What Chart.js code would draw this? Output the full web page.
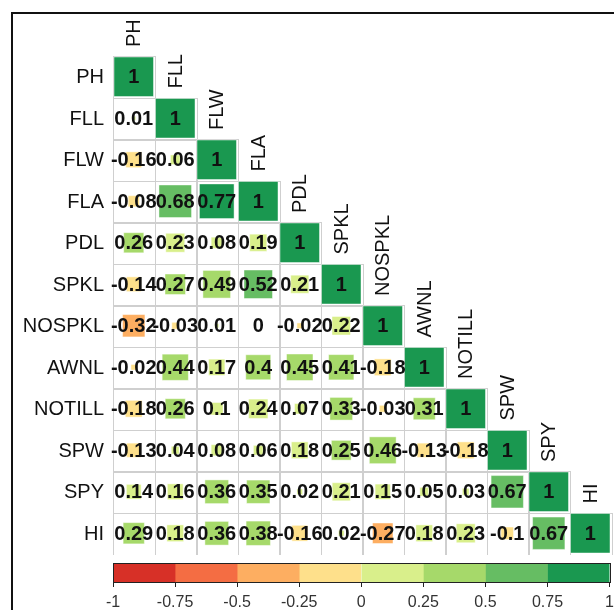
<!DOCTYPE html>
<html>
<head>
<meta charset="utf-8">
<script src="https://cdn.jsdelivr.net/npm/chart.js@4.4.1/dist/chart.umd.min.js"></script>
<style>
  html, body { margin: 0; padding: 0; background: #fff; }
  #wrap { position: relative; width: 614px; height: 610px; overflow: hidden; }
  #frame { position: absolute; left: 11px; top: 12px; width: 700px; height: 700px;
           border-left: 2px solid #111; border-top: 2px solid #111; }
  #main { position: absolute; left: 0; top: 0; }
  #bar { position: absolute; left: 0; top: 555px; }
</style>
</head>
<body>
<div id="wrap">
  <div id="frame"></div>
  <canvas id="main" width="614" height="555"></canvas>
  <canvas id="bar" width="620" height="55"></canvas>
</div>
<script>
// Trait names (rows top to bottom, columns left to right)
const traits = ['PH', 'FLL', 'FLW', 'FLA', 'PDL', 'SPKL', 'NOSPKL', 'AWNL', 'NOTILL', 'SPW', 'SPY', 'HI'];

// Lower-triangle correlation coefficients, one array per row
const rPH     = [1];
const rFLL    = [0.01, 1];
const rFLW    = [-0.16, 0.06, 1];
const rFLA    = [-0.08, 0.68, 0.77, 1];
const rPDL    = [0.26, 0.23, 0.08, 0.19, 1];
const rSPKL   = [-0.14, 0.27, 0.49, 0.52, 0.21, 1];
const rNOSPKL = [-0.32, -0.03, 0.01, 0, -0.02, 0.22, 1];
const rAWNL   = [-0.02, 0.44, 0.17, 0.4, 0.45, 0.41, -0.18, 1];
const rNOTILL = [-0.18, 0.26, 0.1, 0.24, 0.07, 0.33, -0.03, 0.31, 1];
const rSPW    = [-0.13, 0.04, 0.08, 0.06, 0.18, 0.25, 0.46, -0.13, -0.18, 1];
const rSPY    = [0.14, 0.16, 0.36, 0.35, 0.02, 0.21, 0.15, 0.05, 0.03, 0.67, 1];
const rHI     = [0.29, 0.18, 0.36, 0.38, -0.16, 0.02, -0.27, 0.18, 0.23, -0.1, 0.67, 1];

// Colour scale: eight bins of width 0.25 from -1 to 1
const binEdges  = [-1, -0.75, -0.5, -0.25, 0, 0.25, 0.5, 0.75, 1];
const binColors = ['#d73027', '#f46d43', '#fdae61', '#fee08b', '#d9ef8b', '#a6d96a', '#66bd63', '#1a9850'];
const barTickLabels = ['-1', '-0.75', '-0.5', '-0.25', '0', '0.25', '0.5', '0.75', '1'];

const rows = [rPH, rFLL, rFLW, rFLA, rPDL, rSPKL, rNOSPKL, rAWNL, rNOTILL, rSPW, rSPY, rHI];
const FONT = '"Liberation Sans", Arial, Helvetica, sans-serif';

function colorFor(v) {
  let k = Math.floor((v + 1) / 0.25);
  return binColors[Math.max(0, Math.min(binColors.length - 1, k))];
}

const points = [];
rows.forEach((row, i) => row.forEach((v, j) => points.push({ x: j + 0.5, y: i + 0.5, v: v })));

function cellPx(chart) {
  const xs = chart.scales.x;
  return Math.abs(xs.getPixelForValue(1) - xs.getPixelForValue(0));
}

// Grid lines of the lower triangle, drawn under the squares
const gridPlugin = {
  id: 'triGrid',
  beforeDatasetsDraw(chart) {
    const { ctx, scales: { x, y } } = chart;
    ctx.save();
    ctx.strokeStyle = '#cfcfcf';
    ctx.lineWidth = 1;
    rows.forEach((row, i) => row.forEach((v, j) => {
      const x0 = x.getPixelForValue(j), x1 = x.getPixelForValue(j + 1);
      const y0 = y.getPixelForValue(i), y1 = y.getPixelForValue(i + 1);
      ctx.strokeRect(Math.round(x0) + 0.5, Math.round(y0) + 0.5, Math.round(x1 - x0), Math.round(y1 - y0));
    }));
    ctx.restore();
  }
};

// Coefficient values and trait names
const textPlugin = {
  id: 'corrText',
  afterDatasetsDraw(chart) {
    const { ctx, scales: { x, y } } = chart;
    ctx.save();
    ctx.fillStyle = '#111';
    ctx.font = 'bold 20px ' + FONT;
    ctx.textAlign = 'center';
    ctx.textBaseline = 'middle';
    points.forEach(p => {
      ctx.fillText(String(p.v), x.getPixelForValue(p.x), y.getPixelForValue(p.y) + 1);
    });
    ctx.font = '20px ' + FONT;
    ctx.textAlign = 'right';
    traits.forEach((t, i) => {
      ctx.fillText(t, x.getPixelForValue(0) - 9, y.getPixelForValue(i + 0.5) + 1);
    });
    ctx.textAlign = 'left';
    traits.forEach((t, i) => {
      ctx.save();
      ctx.translate(x.getPixelForValue(i + 0.5) + 1, y.getPixelForValue(i) - 9);
      ctx.rotate(-Math.PI / 2);
      ctx.fillText(t, 0, 0);
      ctx.restore();
    });
    ctx.restore();
  }
};

new Chart(document.getElementById('main'), {
  type: 'scatter',
  data: {
    datasets: [{
      data: points,
      pointStyle: 'rect',
      pointRadius: ctx => {
        const side = Math.sqrt(Math.abs(ctx.raw.v)) * (cellPx(ctx.chart) - 2);
        return side / Math.SQRT2;
      },
      pointBackgroundColor: ctx => colorFor(ctx.raw.v),
      pointBorderColor: 'rgba(255,255,255,0.45)',
      pointBorderWidth: 1
    }]
  },
  options: {
    responsive: false,
    animation: false,
    events: [],
    layout: { padding: { left: 113, top: 56, right: 3, bottom: 1 } },
    scales: {
      x: { type: 'linear', min: 0, max: traits.length, display: false },
      y: { type: 'linear', min: 0, max: traits.length, reverse: true, display: false }
    },
    plugins: { legend: { display: false }, tooltip: { enabled: false } }
  },
  plugins: [gridPlugin, textPlugin]
});

// Colour bar outline
const outlinePlugin = {
  id: 'barOutline',
  afterDatasetsDraw(chart) {
    const { ctx, chartArea: a } = chart;
    ctx.save();
    ctx.strokeStyle = '#222';
    ctx.lineWidth = 1;
    ctx.strokeRect(Math.round(a.left) + 0.5, Math.round(a.top) + 0.5, Math.round(a.right - a.left), Math.round(a.bottom - a.top));
    ctx.restore();
  }
};

new Chart(document.getElementById('bar'), {
  type: 'bar',
  data: {
    labels: ['r'],
    datasets: binColors.map((c, k) => ({
      data: [[binEdges[k], binEdges[k + 1]]],
      backgroundColor: c,
      borderWidth: 0,
      barPercentage: 1,
      categoryPercentage: 1,
      grouped: false
    }))
  },
  options: {
    indexAxis: 'y',
    responsive: false,
    animation: false,
    events: [],
    layout: { padding: { left: 113, right: 9, top: 8, bottom: 0 } },
    scales: {
      y: { display: false },
      x: {
        type: 'linear', min: -1, max: 1,
        afterBuildTicks: s => { s.ticks = binEdges.map(v => ({ value: v })); },
        afterFit: s => { s.height = 28; },
        ticks: {
          callback: (v, i) => barTickLabels[i],
          color: '#333',
          font: { family: FONT, size: 16 },
          padding: 6,
          maxRotation: 0
        },
        grid: { display: true, drawOnChartArea: false, tickLength: 5, color: '#222' },
        border: { display: true, color: '#222' }
      }
    },
    plugins: { legend: { display: false }, tooltip: { enabled: false } }
  },
  plugins: [outlinePlugin]
});
</script>
</body>
</html>
